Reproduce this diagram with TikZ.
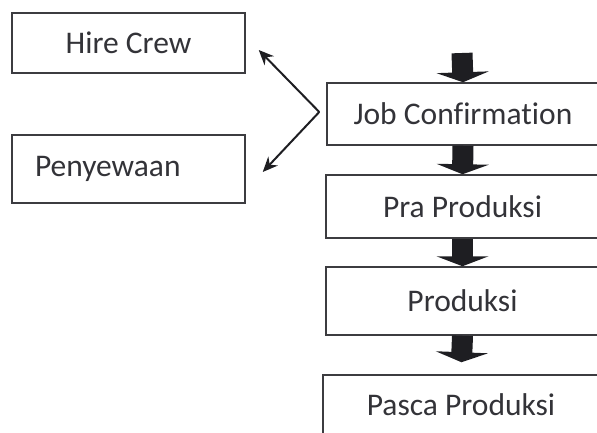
\documentclass[tikz,border=0pt]{standalone}
\usepackage{fontspec}
\setmainfont[Ligatures=NoCommon]{Carlito}
\usetikzlibrary{arrows.meta,calc}
\definecolor{ink}{HTML}{333338}
\definecolor{edge}{HTML}{3C3C40}
\definecolor{blk}{HTML}{1E1E22}
\tikzset{
  box/.style={draw=edge, line width=1.5pt, text=ink, inner sep=0pt,
    font=\fontsize{31.5}{36}\selectfont},
  thin arrow/.style={draw=blk, line width=2pt, -{Stealth[length=15pt,width=13pt]}},
  block arrow/.style={draw=blk, line width=21pt, -{Triangle[length=10pt,width=52pt]}}
}
\begin{document}
\begin{tikzpicture}[x=1pt,y=-1pt]
\useasboundingbox (0,0) rectangle (597,433);
\clip (0,0) rectangle (597,433);
\node[box, minimum width=233pt, minimum height=60pt] (hc) at (128.5,43) {Hire Crew};
\node[box, text width=187pt, inner xsep=23pt, align=left, minimum height=68pt] (pw) at (128.5,169) {Penyewaan};
\node[box, minimum width=272pt, minimum height=62pt] (jc) at (463,114) {Job Confirmation};
\node[box, minimum width=273pt, minimum height=63pt] (pra) at (462.5,206.5) {Pra Produksi};
\node[box, minimum width=273pt, minimum height=68pt] (prod) at (462.5,301) {Produksi};
\node[box, minimum width=276pt, minimum height=60pt] (pasca) at (461,405) {Pasca Produksi};
% connectors
\coordinate (top) at (462,53);
\coordinate (v) at ($(jc.west)+(-7,-2)$);
\coordinate (hcT) at ($(hc.east)+(13,7)$);
\coordinate (pwT) at ($(pw.east)+(17,3)$);
\draw[thin arrow] (v) -- (hcT);
\draw[thin arrow] (v) -- (pwT);
\draw[block arrow] (top) -- (jc.north);
\draw[block arrow] (jc.south) -- (pra.north);
\draw[block arrow] (pra.south) -- (prod.north);
\draw[block arrow, shorten >=12pt] (prod.south) -- (pasca.north);
\end{tikzpicture}
\end{document}
